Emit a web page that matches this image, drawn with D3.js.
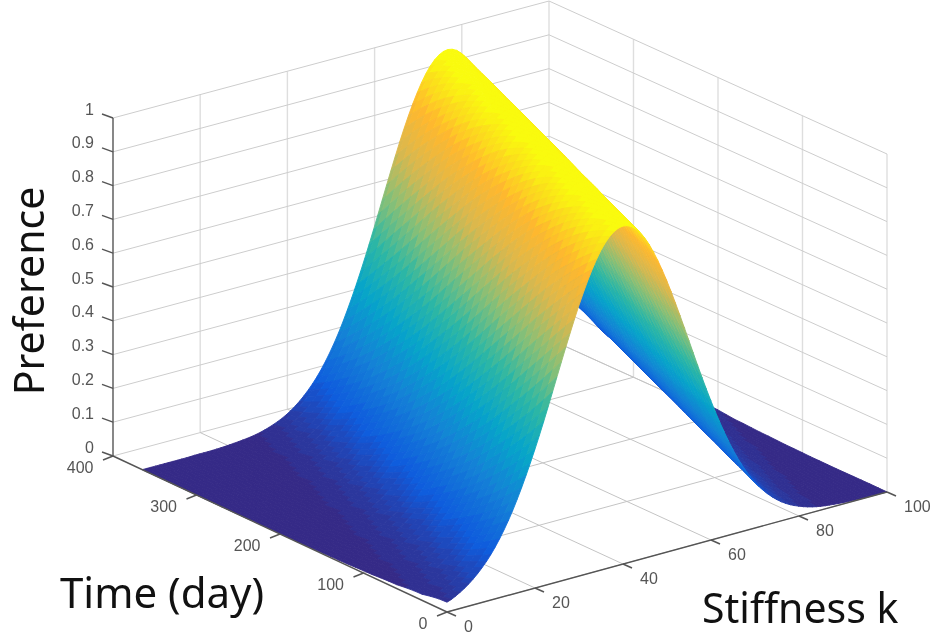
<!DOCTYPE html>
<html>
<head>
<meta charset="utf-8">
<script src="https://d3js.org/d3.v7.min.js"></script>
<style>
  html, body { margin: 0; padding: 0; background: #fff; }
  svg { display: block; filter: blur(0.6px); }
  .tick-label { font-family: "Liberation Sans", sans-serif; font-size: 16px; fill: #555; }
  .axis-title { font-family: "Noto Sans", sans-serif; fill: #111; }
</style>
</head>
<body>
<div id="chart"></div>
<script>
// Tick values of the three axes
const stiffnessTicks = [0, 20, 40, 60, 80, 100];
const timeTicks = [0, 100, 200, 300, 400];
const preferenceTicks = [0, 0.1, 0.2, 0.3, 0.4, 0.5, 0.6, 0.7, 0.8, 0.9, 1];

// Grid of the surface
const stiffness = [0, 2.5, 5, 7.5, 10, 12.5, 15, 17.5, 20, 22.5, 25, 27.5, 30, 32.5, 35, 37.5, 40, 42.5, 45, 47.5,
  50, 52.5, 55, 57.5, 60, 62.5, 65, 67.5, 70, 72.5, 75, 77.5, 80, 82.5, 85, 87.5, 90, 92.5, 95, 97.5, 100];
const days = [0, 30, 61, 91, 122, 152, 182, 213, 243, 274, 304, 335, 365];

// One row per entry of days, one column per entry of stiffness
const preference = [
  [.029,.044,.066,.096,.135,.186,.249,.325,.411,.506,.607,.707,.801,.882,.946,.986,1,.986,.946,.882,.801,.707,.607,.506,.411,.325,.249,.186,.135,.096,.066,.044,.029,.018,.011,.007,.004,.002,.001,.001,0],
  [.018,.029,.044,.066,.096,.135,.186,.249,.325,.411,.506,.607,.707,.801,.882,.946,.986,1,.986,.946,.882,.801,.707,.607,.506,.411,.325,.249,.186,.135,.096,.066,.044,.029,.018,.011,.007,.004,.002,.001,.001],
  [.011,.018,.029,.044,.066,.096,.135,.186,.249,.325,.411,.506,.607,.707,.801,.882,.946,.986,1,.986,.946,.882,.801,.707,.607,.506,.411,.325,.249,.186,.135,.096,.066,.044,.029,.018,.011,.007,.004,.002,.001],
  [.007,.011,.018,.029,.044,.066,.096,.135,.186,.249,.325,.411,.506,.607,.707,.801,.882,.946,.986,1,.986,.946,.882,.801,.707,.607,.506,.411,.325,.249,.186,.135,.096,.066,.044,.029,.018,.011,.007,.004,.002],
  [.004,.007,.011,.018,.029,.044,.066,.096,.135,.186,.249,.325,.411,.506,.607,.707,.801,.882,.946,.986,1,.986,.946,.882,.801,.707,.607,.506,.411,.325,.249,.186,.135,.096,.066,.044,.029,.018,.011,.007,.004],
  [.002,.004,.007,.011,.018,.029,.044,.066,.096,.135,.186,.249,.325,.411,.506,.607,.707,.801,.882,.946,.986,1,.986,.946,.882,.801,.707,.607,.506,.411,.325,.249,.186,.135,.096,.066,.044,.029,.018,.011,.007],
  [.001,.002,.004,.007,.011,.018,.029,.044,.066,.096,.135,.186,.249,.325,.411,.506,.607,.707,.801,.882,.946,.986,1,.986,.946,.882,.801,.707,.607,.506,.411,.325,.249,.186,.135,.096,.066,.044,.029,.018,.011],
  [.001,.001,.002,.004,.007,.011,.018,.029,.044,.066,.096,.135,.186,.249,.325,.411,.506,.607,.707,.801,.882,.946,.986,1,.986,.946,.882,.801,.707,.607,.506,.411,.325,.249,.186,.135,.096,.066,.044,.029,.018],
  [0,.001,.001,.002,.004,.007,.011,.018,.029,.044,.066,.096,.135,.186,.249,.325,.411,.506,.607,.707,.801,.882,.946,.986,1,.986,.946,.882,.801,.707,.607,.506,.411,.325,.249,.186,.135,.096,.066,.044,.029],
  [0,0,.001,.001,.002,.004,.007,.011,.018,.029,.044,.066,.096,.135,.186,.249,.325,.411,.506,.607,.707,.801,.882,.946,.986,1,.986,.946,.882,.801,.707,.607,.506,.411,.325,.249,.186,.135,.096,.066,.044],
  [0,0,0,.001,.001,.002,.004,.007,.011,.018,.029,.044,.066,.096,.135,.186,.249,.325,.411,.506,.607,.707,.801,.882,.946,.986,1,.986,.946,.882,.801,.707,.607,.506,.411,.325,.249,.186,.135,.096,.066],
  [0,0,0,0,.001,.001,.002,.004,.007,.011,.018,.029,.044,.066,.096,.135,.186,.249,.325,.411,.506,.607,.707,.801,.882,.946,.986,1,.986,.946,.882,.801,.707,.607,.506,.411,.325,.249,.186,.135,.096],
  [0,0,0,0,0,.001,.001,.002,.004,.007,.011,.018,.029,.044,.066,.096,.135,.186,.249,.325,.411,.506,.607,.707,.801,.882,.946,.986,1,.986,.946,.882,.801,.707,.607,.506,.411,.325,.249,.186,.135]
];

// Colormap stops (parula)
const parulaStops = ["#352a87", "#0f5cdd", "#1481d6", "#06a4ca", "#2eb7a4", "#87bf77", "#d8b84f", "#ffb82e", "#f9fb0e"];

const width = 933, height = 636;

// Screen position of the four floor corners of the box
const corners = {
  near: [447, 612],    // k=0,   t=0
  right: [887, 492],   // k=100, t=0
  left: [113, 456],    // k=0,   t=400
  back: [549, 339]     // k=100, t=400
};

const kScale = d3.scaleLinear().domain([0, 100]).range([0, 1]);
const tScale = d3.scaleLinear().domain([0, 400]).range([0, 1]);
const zScale = d3.scaleLinear().domain([0, 1]).range([0, 338]);

// Oblique projection of a (stiffness, time, preference) point to the screen
function project(k, t, z) {
  const u = kScale(k), v = tScale(t);
  const front = [0, 1].map(i => corners.near[i] + (corners.right[i] - corners.near[i]) * u);
  const rear = [0, 1].map(i => corners.left[i] + (corners.back[i] - corners.left[i]) * u);
  return [front[0] + (rear[0] - front[0]) * v, front[1] + (rear[1] - front[1]) * v - zScale(z)];
}

const ramp = d3.scaleLinear()
  .domain(parulaStops.map((c, i) => i / (parulaStops.length - 1)))
  .range(parulaStops)
  .interpolate(d3.interpolateRgb);
// 64 colour levels like the default colormap
const colormap = d3.scaleQuantize().domain([0, 1]).range(d3.range(64).map(i => ramp(i / 63)));

const svg = d3.select("#chart").append("svg")
  .attr("width", width)
  .attr("height", height);

function drawLines(group, lines, stroke, strokeWidth) {
  group.selectAll("line")
    .data(lines)
    .enter()
    .append("line")
    .attr("x1", d => d[0][0])
    .attr("y1", d => d[0][1])
    .attr("x2", d => d[1][0])
    .attr("y2", d => d[1][1])
    .attr("stroke", stroke)
    .attr("stroke-width", strokeWidth);
}

// Grid: verticals on the walls are paler than the lines that follow the box edges
const wallVerticals = [], wallLines = [], floorLines = [];
preferenceTicks.forEach(z => {
  wallLines.push([project(0, 400, z), project(100, 400, z)]);
  wallLines.push([project(100, 400, z), project(100, 0, z)]);
});
stiffnessTicks.slice(1).forEach(k => {
  wallVerticals.push([project(k, 400, 0), project(k, 400, 1)]);
  floorLines.push([project(k, 0, 0), project(k, 400, 0)]);
});
timeTicks.slice(0, -1).forEach(t => {
  wallVerticals.push([project(100, t, 0), project(100, t, 1)]);
  floorLines.push([project(0, t, 0), project(100, t, 0)]);
});
drawLines(svg.append("g").attr("class", "grid-verticals"), wallVerticals, "#dedede", 1.4);
drawLines(svg.append("g").attr("class", "grid-walls"), wallLines, "#cdcdcd", 1);
drawLines(svg.append("g").attr("class", "grid-floor"), floorLines, "#c4c4c4", 1);

// Cubic reading of one row at a fractional column
function rowValue(row, x) {
  const c = Math.max(0, Math.min(x, row.length - 1.000001));
  const i = Math.floor(c), f = c - i;
  const p0 = row[Math.max(i - 1, 0)], p1 = row[i], p2 = row[i + 1], p3 = row[Math.min(i + 2, row.length - 1)];
  return Math.max(0, p1 + 0.5 * f * (p2 - p0 + f * (2 * p0 - 5 * p1 + 4 * p2 - p3 + f * (3 * (p1 - p2) + p3 - p0))));
}

// Value on the mesh, read between two rows along the direction of the ridge
function surfaceValue(k, t) {
  const j = Math.min(d3.bisectRight(days, t) - 1, days.length - 2);
  const b = (t - days[j]) / (days[j + 1] - days[j]);
  const x = k / (stiffness[1] - stiffness[0]) - b;
  return rowValue(preference[j], x) * (1 - b) + rowValue(preference[j + 1], x + 1) * b;
}

// Surface patches, far ones first so the near ones cover them
const kSteps = d3.range(0, 100.001, 1);
const tSteps = d3.range(0, 365, 10).concat([365]);
const patches = [];
for (let j = tSteps.length - 2; j >= 0; j--) {
  for (let i = kSteps.length - 2; i >= 0; i--) {
    const k0 = kSteps[i], k1 = kSteps[i + 1], t0 = tSteps[j], t1 = tSteps[j + 1];
    const z = [surfaceValue(k0, t0), surfaceValue(k1, t0), surfaceValue(k1, t1), surfaceValue(k0, t1)];
    patches.push({
      points: [project(k0, t0, z[0]), project(k1, t0, z[1]), project(k1, t1, z[2]), project(k0, t1, z[3])],
      value: d3.mean(z)
    });
  }
}

svg.append("g").attr("class", "surface")
  .selectAll("path")
  .data(patches)
  .enter()
  .append("path")
  .attr("d", d => "M" + d.points.join("L") + "Z")
  .attr("fill", d => colormap(d.value))
  .attr("stroke", d => colormap(d.value))
  .attr("stroke-width", 0.9)
  .attr("stroke-linejoin", "round");

// Axis lines and ticks
const axisLines = [
  [project(0, 400, 0), project(0, 400, 1)],
  [project(0, 400, 0), project(0, 0, 0)],
  [project(0, 0, 0), project(100, 0, 0)]
];
preferenceTicks.forEach(z => {
  const p = project(0, 400, z);
  axisLines.push([p, [p[0] - 11, p[1] - 4]]);
});
timeTicks.forEach(t => {
  const p = project(0, t, 0);
  axisLines.push([p, [p[0] - 10, p[1] + 4]]);
});
stiffnessTicks.forEach(k => {
  const p = project(k, 0, 0);
  axisLines.push([p, [p[0] + 9, p[1] + 4]]);
});
drawLines(svg.append("g").attr("class", "axes"), axisLines, "#555", 1.4);

// Tick labels
const labels = svg.append("g");
labels.selectAll(".z-label")
  .data(preferenceTicks)
  .enter()
  .append("text")
  .attr("class", "tick-label z-label")
  .attr("text-anchor", "end")
  .attr("dy", "0.35em")
  .attr("x", d => project(0, 400, d)[0] - 19)
  .attr("y", d => project(0, 400, d)[1] - 9)
  .text(d => d);
labels.selectAll(".t-label")
  .data(timeTicks)
  .enter()
  .append("text")
  .attr("class", "tick-label t-label")
  .attr("text-anchor", "end")
  .attr("dy", "0.35em")
  .attr("x", d => project(0, d, 0)[0] - 19.5)
  .attr("y", d => project(0, d, 0)[1] + 11.5)
  .text(d => d);
labels.selectAll(".k-label")
  .data(stiffnessTicks)
  .enter()
  .append("text")
  .attr("class", "tick-label k-label")
  .attr("dy", "0.35em")
  .attr("x", d => project(d, 0, 0)[0] + 17)
  .attr("y", d => project(d, 0, 0)[1] + 14.5)
  .text(d => d);

// Axis titles
svg.append("text")
  .attr("class", "axis-title")
  .attr("font-size", 41)
  .attr("text-anchor", "middle")
  .attr("transform", "translate(44,291) rotate(-90)")
  .text("Preference");
svg.append("text")
  .attr("class", "axis-title")
  .attr("font-size", 42)
  .attr("x", 60)
  .attr("y", 608)
  .text("Time (day)");
svg.append("text")
  .attr("class", "axis-title")
  .attr("font-size", 41)
  .attr("x", 702)
  .attr("y", 623)
  .text("Stiffness k");
</script>
</body>
</html>
